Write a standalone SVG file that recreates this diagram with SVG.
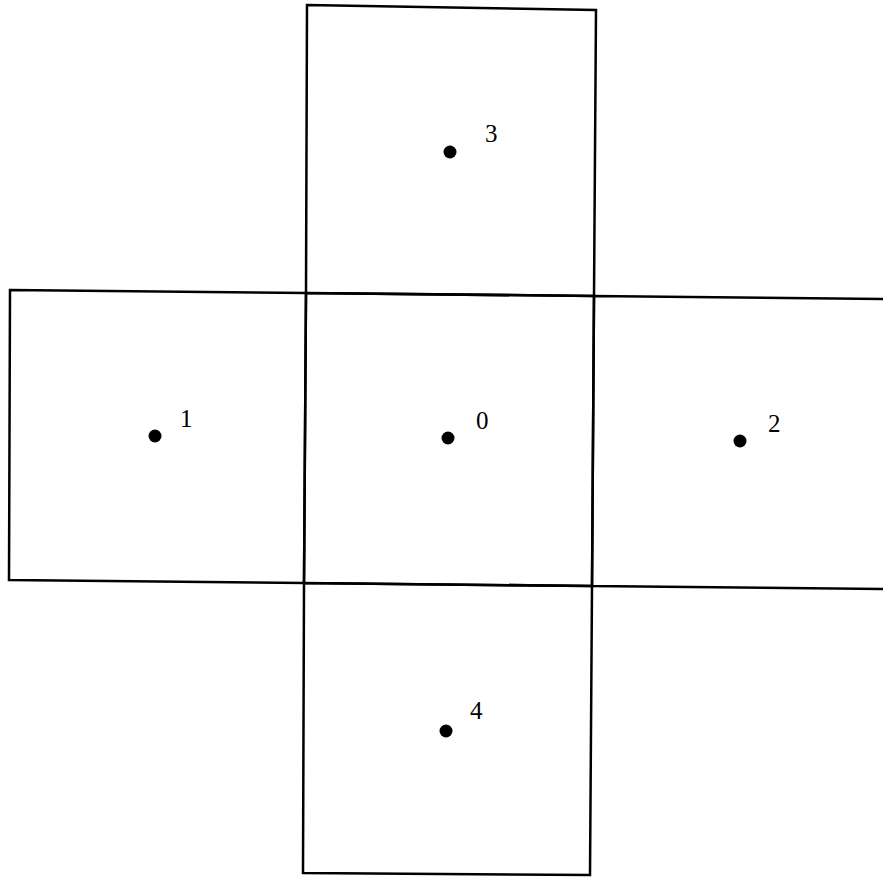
<svg xmlns="http://www.w3.org/2000/svg" width="883" height="877" viewBox="0 0 883 877">
<style>
.box{fill:none;stroke:#000;stroke-width:2.5;stroke-linejoin:miter}
.dot{fill:#000}
.lbl{font-family:"Liberation Serif","DejaVu Serif",serif;font-size:25px;fill:#000}
</style>
<rect width="883" height="877" fill="#fff"/>
<g id="node-3">
<polygon class="box" points="307,5 596,10 594,296 306,293"/>
<circle class="dot" cx="450" cy="152" r="6.5"/>
<text class="lbl" x="485" y="142">3</text>
</g>
<g id="node-1">
<polygon class="box" points="10,290 306,293 304,583 9,580"/>
<circle class="dot" cx="155" cy="436" r="6.5"/>
<text class="lbl" x="180" y="427">1</text>
</g>
<g id="node-0">
<polygon class="box" points="306,293 594,296 592,586 304,583"/>
<circle class="dot" cx="448" cy="438" r="6.5"/>
<text class="lbl" x="476" y="429">0</text>
</g>
<g id="node-2">
<polyline class="box" points="885,299 594,296 592,586 885,589"/>
<circle class="dot" cx="740" cy="441" r="6.5"/>
<text class="lbl" x="768" y="432">2</text>
</g>
<g id="node-4">
<polygon class="box" points="304,583 592,586 590,875 303,873"/>
<circle class="dot" cx="446" cy="731" r="6.5"/>
<text class="lbl" x="470" y="719">4</text>
</g>
<g id="connectors"></g>
</svg>
